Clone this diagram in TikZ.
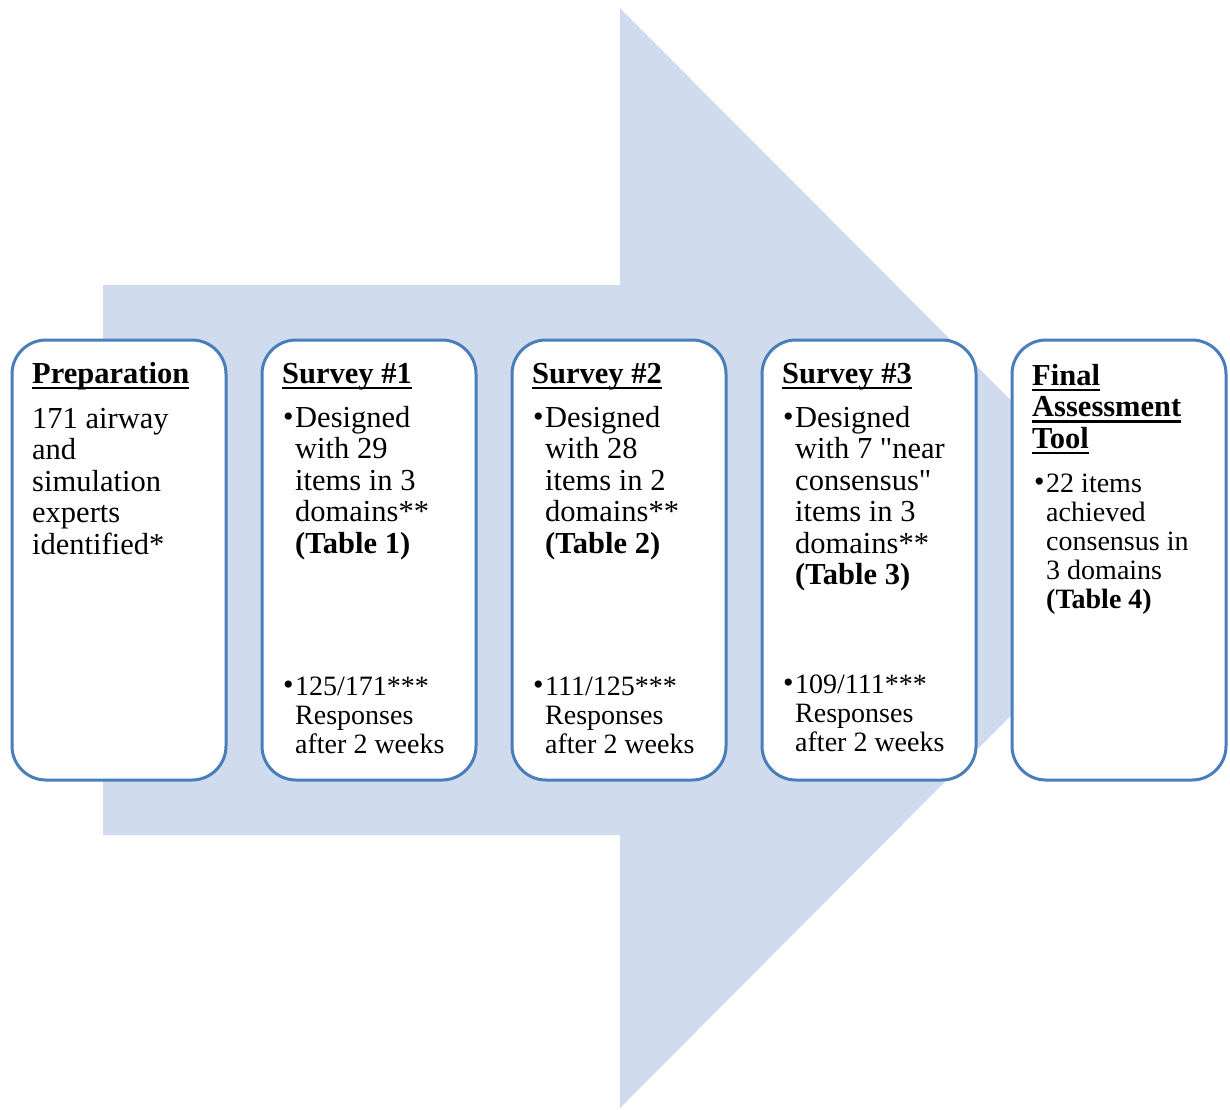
\documentclass[tikz,border=0pt]{standalone}
\usepackage{fontspec}
\setmainfont{Liberation Serif}
\newfontfamily\nomap{Liberation Serif}[Ligatures=TeXOff]
\usepackage{xcolor}
\usepackage{tikz}
\usetikzlibrary{positioning, calc}
\definecolor{arrowblue}{RGB}{208,219,238}
\definecolor{boxblue}{RGB}{74,126,187}
\newcommand{\uhead}[1]{\setbox0\hbox{#1}\rlap{\rule[-6pt]{\wd0}{2.4pt}}\box0}
\newcommand{\bul}{\llap{\raisebox{0.5pt}{\fontsize{30}{30}\selectfont\textbullet}\hspace{1.5pt}}}
\newcommand{\fst}{\rule{0pt}{24pt}}
\newcommand{\sq}{{\nomap\char34}}

\begin{document}
\begin{tikzpicture}[x=1pt, y=-1pt,
	stage/.style={draw=boxblue, line width=3pt, fill=white, rounded corners=34pt, minimum width=214pt, minimum height=440pt, inner sep=0pt, outer sep=0pt},
	head/.style={anchor=north west, inner sep=0pt, align=left, font=\bfseries\fontsize{30.5}{31.5}\selectfont},
	body/.style={anchor=north west, inner sep=0pt, align=left, font=\fontsize{30.5}{31.5}\selectfont},
	small/.style={anchor=north west, inner sep=0pt, align=left, font=\fontsize{28}{29}\selectfont}]
		\useasboundingbox (0,0) rectangle (1230,1109);
		% big arrow behind the stages
		\fill[arrowblue] (103,285) -- (620,285) -- (620,8) -- (1168,558) -- (620,1108) -- (620,835) -- (103,835) -- cycle;
		
		\node[stage] (prep) at (119,560) {};
		\node[stage, right=36pt of prep] (s1) {};
		\node[stage, right=36pt of s1] (s2) {};
		\node[stage, right=36pt of s2] (s3) {};
		\node[stage, right=36pt of s3] (final) {};
		
		\node[head] (prephead) at ($(prep.north west)+(20,19)$) {\fst\uhead{Preparation}};
		\node[body] (preptext) at ($(prep.north west)+(20,64)$) {\fst 171 airway\\and\\simulation\\experts\\identified*};
		
		\node[head] (s1head) at ($(s1.north west)+(20,19)$) {\fst\uhead{Survey \#1}};
		\node[body] (s1top) at ($(s1.north west)+(33,63)$) {\fst\bul Designed\\with 29\\items in 3\\domains**\\\textbf{(Table 1)}};
		\node[small] (s1bot) at ($(s1.north west)+(33,331)$) {\fst\bul 125/171***\\Responses\\after 2 weeks};
		
		\node[head] (s2head) at ($(s2.north west)+(20,19)$) {\fst\uhead{Survey \#2}};
		\node[body] (s2top) at ($(s2.north west)+(33,63)$) {\fst\bul Designed\\with 28\\items in 2\\domains**\\\textbf{(Table 2)}};
		\node[small] (s2bot) at ($(s2.north west)+(33,331)$) {\fst\bul 111/125***\\Responses\\after 2 weeks};
		
		\node[head] (s3head) at ($(s3.north west)+(20,19)$) {\fst\uhead{Survey \#3}};
		\node[body] (s3top) at ($(s3.north west)+(33,63)$) {\fst\bul Designed\\with 7 \sq near\\consensus\sq\\items in 3\\domains**\\\textbf{(Table 3)}};
		\node[small] (s3bot) at ($(s3.north west)+(33,329)$) {\fst\bul 109/111***\\Responses\\after 2 weeks};
		
		\node[head] (finalhead) at ($(final.north west)+(20,21)$) {\fst\uhead{Final}\\\uhead{Assessment}\\\uhead{Tool}};
		\node[small] (finaltext) at ($(final.north west)+(34,128)$) {\fst\bul 22 items\\achieved\\consensus in\\3 domains\\\textbf{(Table 4)}};
\end{tikzpicture}
\end{document}
